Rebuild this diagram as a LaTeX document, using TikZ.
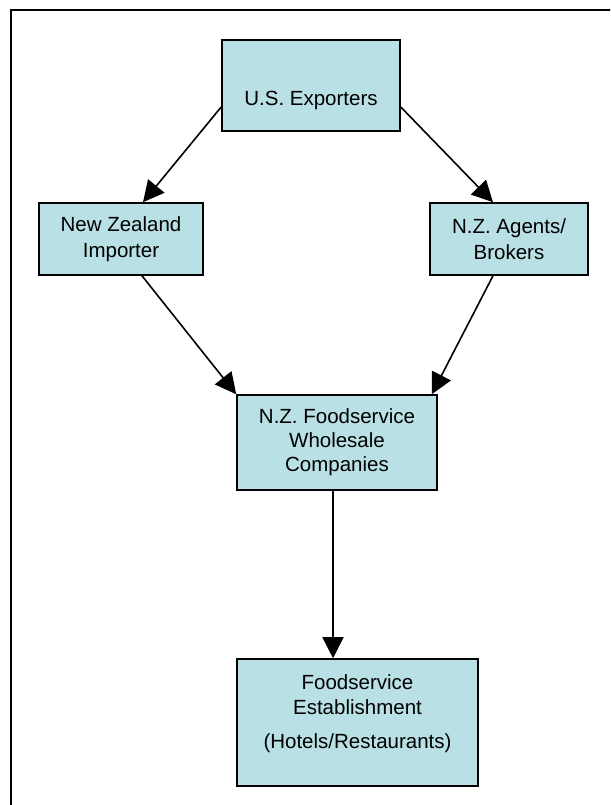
\documentclass[tikz,border=0pt]{standalone}
\usepackage{fontspec}
\setmainfont{Liberation Sans}
\usetikzlibrary{arrows.meta}
\definecolor{boxfill}{RGB}{185,224,228}
\begin{document}
\begin{tikzpicture}[x=1pt,y=-1pt,
  box/.style={draw=black, line width=1.6pt, fill=boxfill, inner sep=0pt,
              align=center, font=\fontsize{20.5}{25.5}\selectfont},
  lbl/.style={align=center, inner sep=0pt, font=\fontsize{20.5}{25.5}\selectfont},
  flow/.style={line width=1.6pt, -{Triangle[length=21pt,width=21pt]}}]
\useasboundingbox (0,0) rectangle (610,805);
\begin{scope}
  \clip (0,0) rectangle (610,805);
  % outer frame, running past the right and bottom edges
  \draw[line width=1.4pt] (11,10) rectangle (660,860);
\end{scope}

% boxes
\node[box, minimum width=178pt, minimum height=91pt] (us) at (311,85.5) {};
\node[lbl] (ustext) at ([yshift=-14.5pt]us.center) {U.S. Exporters};

\node[box, minimum width=164pt, minimum height=72pt] (imp) at (121,239)
  {New Zealand\\Importer};
\node[box, minimum width=158pt, minimum height=72pt] (agt) at (509,239)
  {N.Z. Agents/\\Brokers};

\node[box, minimum width=200pt, minimum height=95pt,
      font=\fontsize{20.5}{24}\selectfont] (fw) at (337,442.5)
  {N.Z. Foodservice\\Wholesale\\Companies};

\node[box, minimum width=241pt, minimum height=127pt] (fe) at (357.5,722.5) {};
\node[lbl] (fetext) at ([yshift=9pt]fe.center)
  {Foodservice\\Establishment\\[8pt](Hotels/Restaurants)};

% connectors
\draw[flow] ([yshift=-21.5pt]us.west) -- ([xshift=22pt]imp.north);
\draw[flow] ([yshift=-21.5pt]us.east) -- ([xshift=-16pt]agt.north);
\draw[flow] ([xshift=21pt]imp.south) -- (fw.north west);
\draw[flow] ([xshift=-16pt]agt.south) -- ([xshift=-6pt]fw.north east);
\draw[flow] ([xshift=-4pt]fw.south) -- ([xshift=-4pt]fw.south |- fe.north);
\end{tikzpicture}
\end{document}
